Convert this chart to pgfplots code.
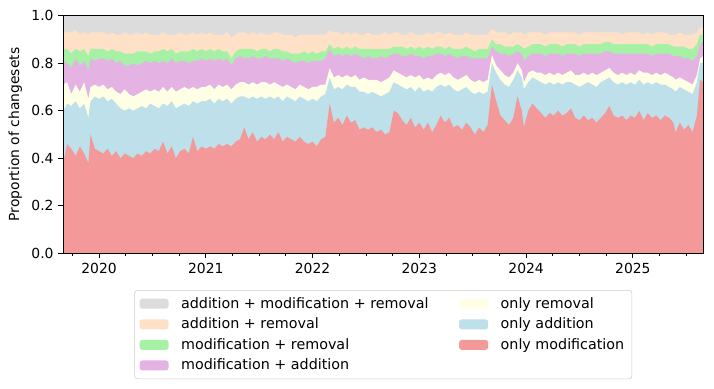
\documentclass[border=0pt]{standalone}
\usepackage{fontspec}
\setmainfont{DejaVu Sans}
\usepackage{pgfplots}
\usepackage{pgfplotstable}
\pgfplotsset{compat=1.18}
\definecolor{cgray}{RGB}{220,220,220}
\definecolor{cpeach}{RGB}{255,225,199}
\definecolor{cgreen}{RGB}{166,241,166}
\definecolor{cplum}{RGB}{228,179,228}
\definecolor{cyellow}{RGB}{255,255,230}
\definecolor{cblue}{RGB}{189,224,235}
\definecolor{cred}{RGB}{243,153,153}
\definecolor{cframe}{RGB}{204,204,204}

% cumulative boundaries: r = only modification, a = +only addition, y = +only removal,
% p = +modification+addition, g = +modification+removal, k = +addition+removal, t = total
\pgfplotstableread{
x r a y p g k t
2019.665 0.38 0.60 0.71 0.81 0.86 0.93 1
2019.70 0.46 0.63 0.72 0.80 0.86 0.93 1
2019.74 0.44 0.62 0.67 0.78 0.84 0.93 1
2019.78 0.41 0.64 0.71 0.82 0.86 0.94 1
2019.82 0.45 0.61 0.68 0.79 0.85 0.92 1
2019.86 0.42 0.63 0.72 0.81 0.86 0.93 1
2019.90 0.38 0.57 0.65 0.77 0.83 0.92 1
2019.92 0.50 0.64 0.70 0.82 0.86 0.93 1
2019.96 0.44 0.66 0.71 0.81 0.86 0.93 1
2020.00 0.43 0.65 0.70 0.82 0.86 0.93 1
2020.04 0.42 0.66 0.71 0.82 0.86 0.93 1
2020.08 0.44 0.64 0.69 0.81 0.85 0.92 1
2020.12 0.41 0.65 0.70 0.82 0.86 0.93 1
2020.16 0.43 0.63 0.68 0.80 0.85 0.92 1
2020.20 0.40 0.61 0.67 0.81 0.85 0.92 1
2020.24 0.42 0.60 0.69 0.79 0.84 0.93 1
2020.28 0.41 0.61 0.67 0.79 0.84 0.92 1
2020.32 0.40 0.60 0.66 0.80 0.84 0.92 1
2020.36 0.42 0.61 0.67 0.79 0.85 0.93 1
2020.40 0.41 0.62 0.68 0.80 0.85 0.92 1
2020.44 0.43 0.61 0.69 0.81 0.85 0.93 1
2020.48 0.42 0.63 0.68 0.80 0.84 0.92 1
2020.52 0.44 0.62 0.69 0.81 0.85 0.92 1
2020.56 0.43 0.61 0.68 0.80 0.85 0.92 1
2020.60 0.47 0.63 0.70 0.81 0.86 0.93 1
2020.64 0.42 0.62 0.68 0.80 0.85 0.92 1
2020.68 0.45 0.64 0.70 0.82 0.86 0.92 1
2020.72 0.40 0.61 0.68 0.80 0.84 0.92 1
2020.76 0.43 0.62 0.69 0.81 0.85 0.93 1
2020.80 0.44 0.63 0.70 0.81 0.85 0.92 1
2020.84 0.42 0.62 0.69 0.80 0.85 0.92 1
2020.88 0.49 0.64 0.70 0.81 0.86 0.93 1
2020.92 0.43 0.63 0.69 0.81 0.85 0.92 1
2020.96 0.45 0.64 0.70 0.82 0.86 0.93 1
2021.00 0.44 0.64 0.70 0.81 0.85 0.92 1
2021.04 0.45 0.65 0.71 0.82 0.86 0.93 1
2021.08 0.44 0.63 0.69 0.81 0.85 0.92 1
2021.12 0.46 0.65 0.71 0.82 0.86 0.92 1
2021.16 0.45 0.64 0.70 0.81 0.85 0.92 1
2021.20 0.46 0.65 0.71 0.82 0.85 0.93 1
2021.24 0.45 0.63 0.69 0.79 0.82 0.91 1
2021.28 0.47 0.65 0.71 0.82 0.85 0.92 1
2021.32 0.48 0.66 0.72 0.83 0.86 0.93 1
2021.36 0.53 0.66 0.72 0.82 0.86 0.93 1
2021.40 0.48 0.65 0.71 0.82 0.86 0.92 1
2021.44 0.51 0.66 0.72 0.83 0.86 0.93 1
2021.48 0.47 0.65 0.71 0.82 0.85 0.92 1
2021.52 0.49 0.66 0.72 0.82 0.86 0.93 1
2021.56 0.48 0.65 0.72 0.83 0.86 0.92 1
2021.60 0.50 0.66 0.71 0.82 0.85 0.92 1
2021.64 0.48 0.65 0.72 0.82 0.86 0.93 1
2021.68 0.51 0.66 0.71 0.82 0.86 0.93 1
2021.72 0.47 0.64 0.70 0.81 0.85 0.92 1
2021.76 0.49 0.66 0.71 0.82 0.85 0.92 1
2021.80 0.48 0.65 0.70 0.81 0.84 0.92 1
2021.84 0.47 0.64 0.69 0.80 0.84 0.91 1
2021.88 0.49 0.66 0.71 0.81 0.84 0.92 1
2021.92 0.47 0.65 0.70 0.81 0.85 0.92 1
2021.96 0.46 0.64 0.69 0.80 0.84 0.92 1
2022.00 0.47 0.65 0.70 0.81 0.85 0.92 1
2022.04 0.45 0.64 0.70 0.81 0.84 0.92 1
2022.08 0.48 0.66 0.71 0.81 0.85 0.92 1
2022.12 0.49 0.67 0.71 0.82 0.85 0.92 1
2022.16 0.63 0.74 0.78 0.86 0.88 0.94 1
2022.20 0.55 0.69 0.74 0.83 0.86 0.93 1
2022.24 0.57 0.70 0.75 0.84 0.87 0.93 1
2022.28 0.54 0.69 0.74 0.83 0.86 0.92 1
2022.32 0.58 0.71 0.75 0.84 0.87 0.93 1
2022.36 0.55 0.70 0.74 0.83 0.86 0.92 1
2022.40 0.56 0.70 0.75 0.84 0.87 0.93 1
2022.44 0.52 0.68 0.73 0.83 0.86 0.92 1
2022.48 0.53 0.68 0.74 0.82 0.86 0.92 1
2022.52 0.52 0.67 0.73 0.83 0.86 0.93 1
2022.56 0.53 0.68 0.73 0.82 0.86 0.92 1
2022.60 0.51 0.67 0.73 0.82 0.86 0.92 1
2022.64 0.52 0.66 0.72 0.83 0.86 0.92 1
2022.68 0.50 0.67 0.73 0.82 0.86 0.93 1
2022.72 0.51 0.68 0.74 0.83 0.86 0.92 1
2022.76 0.60 0.72 0.77 0.84 0.87 0.93 1
2022.80 0.59 0.71 0.76 0.84 0.87 0.93 1
2022.84 0.56 0.70 0.75 0.83 0.87 0.92 1
2022.88 0.54 0.69 0.74 0.83 0.86 0.92 1
2022.92 0.57 0.70 0.75 0.84 0.87 0.93 1
2022.96 0.53 0.68 0.74 0.83 0.86 0.92 1
2023.00 0.55 0.70 0.75 0.83 0.87 0.92 1
2023.04 0.52 0.68 0.73 0.82 0.86 0.92 1
2023.08 0.55 0.69 0.74 0.83 0.87 0.93 1
2023.12 0.51 0.68 0.73 0.83 0.86 0.92 1
2023.16 0.54 0.70 0.75 0.84 0.87 0.93 1
2023.20 0.58 0.71 0.76 0.84 0.87 0.93 1
2023.24 0.55 0.70 0.75 0.83 0.86 0.92 1
2023.28 0.57 0.71 0.76 0.84 0.87 0.93 1
2023.32 0.53 0.69 0.74 0.83 0.86 0.92 1
2023.36 0.54 0.68 0.73 0.82 0.86 0.92 1
2023.40 0.52 0.69 0.74 0.83 0.86 0.92 1
2023.44 0.55 0.70 0.75 0.83 0.87 0.93 1
2023.48 0.53 0.68 0.73 0.82 0.86 0.92 1
2023.52 0.50 0.67 0.72 0.82 0.85 0.92 1
2023.56 0.53 0.68 0.73 0.82 0.86 0.92 1
2023.60 0.51 0.67 0.72 0.82 0.86 0.92 1
2023.64 0.54 0.68 0.73 0.82 0.86 0.92 1
2023.68 0.71 0.80 0.835 0.87 0.90 0.947 1
2023.72 0.64 0.76 0.79 0.85 0.88 0.93 1
2023.76 0.58 0.73 0.77 0.84 0.88 0.93 1
2023.80 0.56 0.71 0.75 0.84 0.87 0.93 1
2023.84 0.54 0.70 0.74 0.83 0.87 0.92 1
2023.88 0.57 0.73 0.76 0.84 0.87 0.93 1
2023.92 0.66 0.77 0.80 0.85 0.88 0.93 1
2023.96 0.60 0.74 0.77 0.84 0.87 0.93 1
2023.98 0.53 0.69 0.72 0.81 0.86 0.92 1
2024.02 0.60 0.72 0.76 0.83 0.87 0.93 1
2024.06 0.63 0.74 0.77 0.84 0.88 0.93 1
2024.10 0.61 0.73 0.76 0.84 0.88 0.93 1
2024.14 0.59 0.72 0.76 0.84 0.88 0.93 1
2024.18 0.57 0.71 0.75 0.83 0.87 0.92 1
2024.22 0.59 0.72 0.76 0.84 0.88 0.93 1
2024.26 0.58 0.71 0.75 0.84 0.88 0.93 1
2024.30 0.60 0.72 0.76 0.84 0.88 0.93 1
2024.34 0.58 0.71 0.75 0.83 0.87 0.93 1
2024.38 0.59 0.72 0.76 0.84 0.88 0.93 1
2024.42 0.61 0.72 0.77 0.84 0.88 0.93 1
2024.46 0.57 0.71 0.75 0.84 0.88 0.93 1
2024.50 0.56 0.70 0.75 0.83 0.87 0.92 1
2024.54 0.58 0.71 0.76 0.84 0.88 0.93 1
2024.58 0.56 0.72 0.75 0.84 0.88 0.93 1
2024.62 0.57 0.71 0.76 0.84 0.88 0.93 1
2024.66 0.55 0.70 0.75 0.84 0.88 0.93 1
2024.70 0.57 0.72 0.76 0.84 0.88 0.93 1
2024.74 0.59 0.73 0.77 0.85 0.89 0.93 1
2024.78 0.62 0.74 0.78 0.85 0.89 0.93 1
2024.82 0.58 0.72 0.76 0.84 0.88 0.93 1
2024.86 0.57 0.71 0.75 0.84 0.88 0.93 1
2024.90 0.58 0.72 0.76 0.84 0.88 0.92 1
2024.94 0.56 0.71 0.75 0.84 0.88 0.93 1
2024.98 0.58 0.72 0.76 0.84 0.88 0.93 1
2025.02 0.57 0.71 0.75 0.84 0.88 0.93 1
2025.06 0.60 0.73 0.77 0.84 0.88 0.93 1
2025.10 0.56 0.71 0.76 0.84 0.88 0.92 1
2025.14 0.59 0.72 0.76 0.84 0.88 0.93 1
2025.18 0.57 0.71 0.75 0.83 0.87 0.92 1
2025.22 0.58 0.72 0.76 0.84 0.88 0.93 1
2025.26 0.56 0.71 0.75 0.84 0.88 0.93 1
2025.30 0.58 0.71 0.76 0.84 0.88 0.93 1
2025.34 0.57 0.70 0.75 0.84 0.88 0.92 1
2025.38 0.55 0.69 0.74 0.83 0.87 0.92 1
2025.40 0.51 0.68 0.73 0.83 0.87 0.92 1
2025.44 0.55 0.70 0.74 0.83 0.87 0.93 1
2025.48 0.52 0.69 0.73 0.82 0.87 0.92 1
2025.52 0.54 0.68 0.72 0.82 0.86 0.92 1
2025.56 0.51 0.67 0.71 0.81 0.86 0.92 1
2025.60 0.58 0.72 0.75 0.83 0.88 0.93 1
2025.63 0.73 0.80 0.82 0.88 0.92 0.95 1
2025.66 0.72 0.80 0.83 0.89 0.92 0.95 1
}\data

\begin{document}
\begin{tikzpicture}
\path[use as bounding box] (-45.58pt,-97.7pt) rectangle (468.5pt,182.38pt);
\begin{axis}[
  width=460.8pt, height=171.07pt, scale only axis,
  xmin=2019.665, xmax=2025.66, ymin=0, ymax=1,
  axis on top,
  xtick={2020,2021,2022,2023,2024,2025},
  minor xtick={2019.75,2020.25,2020.5,2020.75,2021.25,2021.5,2021.75,2022.25,2022.5,2022.75,2023.25,2023.5,2023.75,2024.25,2024.5,2024.75,2025.25,2025.5},
  ytick={0,0.2,0.4,0.6,0.8,1},
  yticklabel style={/pgf/number format/.cd, fixed, fixed zerofill, precision=1},
  xticklabel style={/pgf/number format/1000 sep={}},
  /pgf/number format/assume math mode=true,
  tick align=outside, xtick pos=bottom, ytick pos=left,
  major tick length=3.5pt, minor tick length=2pt,
  tick style={black, line width=0.8pt},
  minor tick style={black, line width=0.6pt},
  axis line style={line width=0.8pt},
  ylabel={Proportion of changesets},
  legend columns=2,
  legend cell align=left,
  legend style={at={(0.5,-0.1545)}, anchor=north, draw=cframe, rounded corners=2pt,
    font=\fontsize{10.3}{12.4}\selectfont,
    inner xsep=3.5pt, inner ysep=3pt, row sep=1.5pt,
    /tikz/every odd column/.append style={column sep=7pt},
    /tikz/every even column/.append style={column sep=20pt}},
  legend image code/.code={\fill[#1] (0pt,-3.6pt) rectangle (20.9pt,3.6pt);},
]
\addplot[fill=cgray, draw=none, forget plot] table[x=x, y=t] {\data} \closedcycle;
\addplot[fill=cpeach, draw=none, forget plot] table[x=x, y=k] {\data} \closedcycle;
\addplot[fill=cgreen, draw=none, forget plot] table[x=x, y=g] {\data} \closedcycle;
\addplot[fill=cplum, draw=none, forget plot] table[x=x, y=p] {\data} \closedcycle;
\addplot[fill=cyellow, draw=none, forget plot] table[x=x, y=y] {\data} \closedcycle;
\addplot[fill=cblue, draw=none, forget plot] table[x=x, y=a] {\data} \closedcycle;
\addplot[fill=cred, draw=none, forget plot] table[x=x, y=r] {\data} \closedcycle;
\addlegendimage{fill=cgray, draw=none}
\addlegendentry{addition + modification + removal}
\addlegendimage{fill=cyellow, draw=none}
\addlegendentry{only removal}
\addlegendimage{fill=cpeach, draw=none}
\addlegendentry{addition + removal}
\addlegendimage{fill=cblue, draw=none}
\addlegendentry{only addition}
\addlegendimage{fill=cgreen, draw=none}
\addlegendentry{modification + removal}
\addlegendimage{fill=cred, draw=none}
\addlegendentry{only modification}
\addlegendimage{fill=cplum, draw=none}
\addlegendentry{modification + addition}
\end{axis}
\end{tikzpicture}
\end{document}
